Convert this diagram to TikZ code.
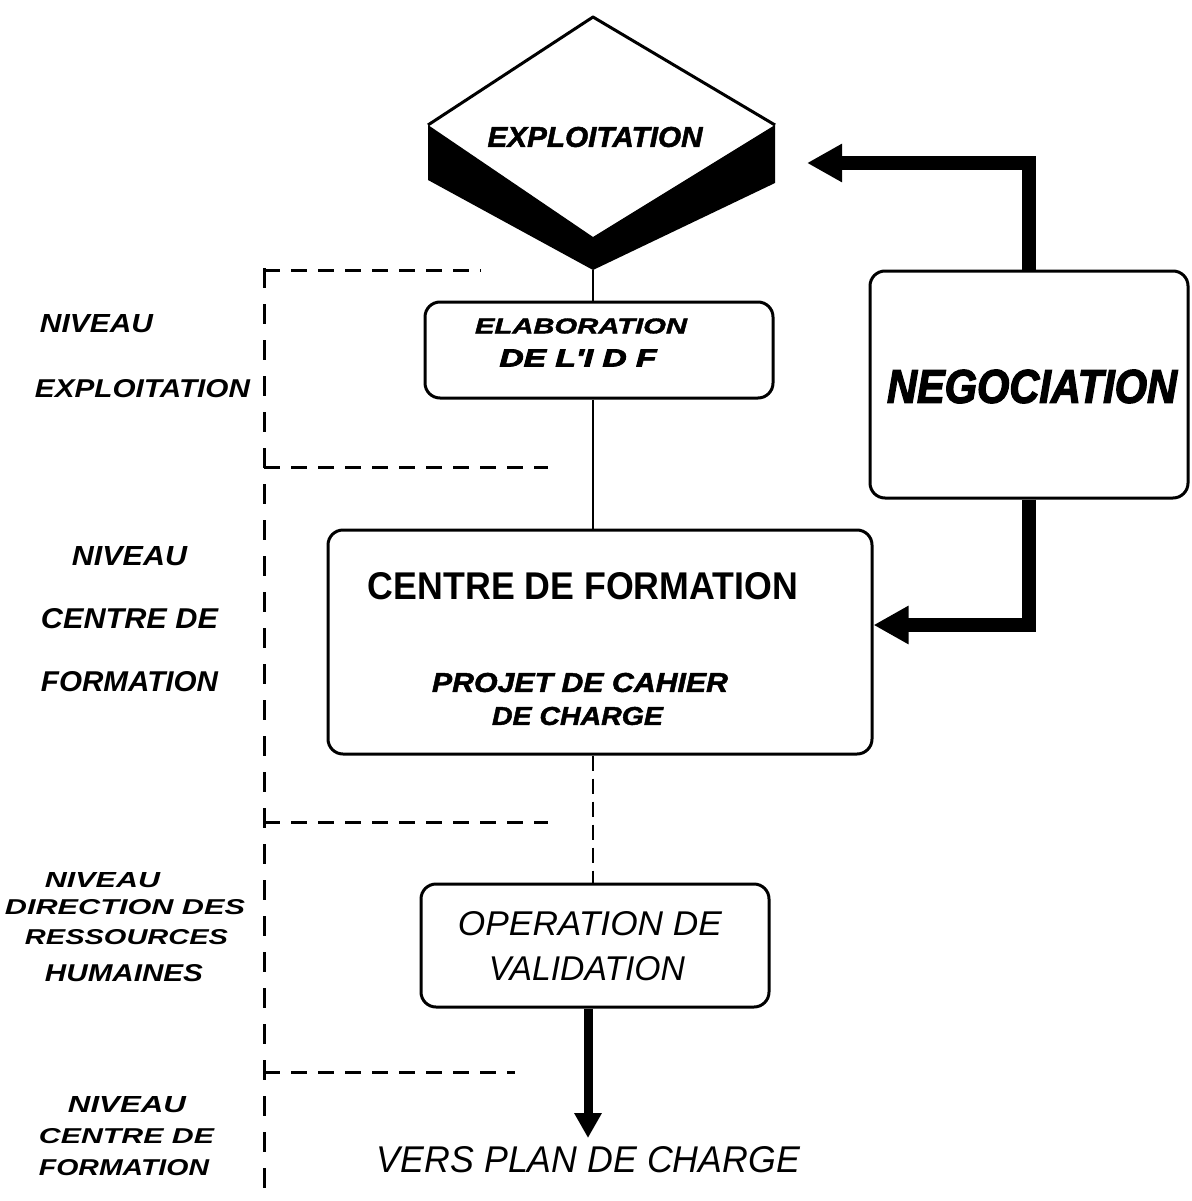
\documentclass[tikz,border=0pt]{standalone}
\usepackage{fontspec}
\usepackage{graphicx}
\setmainfont{Liberation Sans}
\newfontfamily\heavyfont[BoldItalicFeatures={FakeBold=1.6}]{Liberation Sans}
\newfontfamily\blackfont[BoldItalicFeatures={FakeBold=3}]{Liberation Sans}
\usetikzlibrary{arrows.meta}

% text scaled to a given width and cap height (in pt)
\newcommand\fitbox[3]{\resizebox{#1pt}{#2pt}{#3}}
\newcommand\bi{\bfseries\itshape}
\newcommand\hbi{\heavyfont\bfseries\itshape}

\tikzset{
  lbl/.style={inner sep=0pt, outer sep=0pt},
  stage/.style={draw, line width=3pt, rounded corners=15pt, inner sep=0pt},
  link/.style={line width=2.8pt},
  linkdash/.style={line width=2.5pt, dash pattern=on 15pt off 8pt},
  levelh/.style={line width=3pt, dash pattern=on 16pt off 11pt},
  levelv/.style={line width=3pt, dash pattern=on 20pt off 16pt},
  outflow/.style={line width=9pt, -{Triangle[length=25pt,width=26pt]}},
  feedback/.style={line width=14pt, line join=miter, -{Triangle[length=35pt,width=36pt]}}
}

\begin{document}
\begin{tikzpicture}[x=1pt, y=-1pt]
\useasboundingbox (0,0) rectangle (1191,1201);
\fill[white] (0,0) rectangle (1191,1201);

% --- level separators ---
\draw[levelv] (264,268) -- (264,1201);
\draw[levelh] (264,270) -- (481,270);
\draw[levelh] (264,467) -- (548,467);
\draw[levelh] (264,822) -- (548,822);
\draw[levelh] (264,1072) -- (515,1072);

% --- level labels ---
\node[lbl] (n1a) at (96.5,324)   {\fitbox{113}{18}{\bi NIVEAU}};
\node[lbl] (n1b) at (142.5,389)  {\fitbox{215}{18}{\bi EXPLOITATION}};
\node[lbl] (n2a) at (129.5,556.5){\fitbox{115}{19}{\bi NIVEAU}};
\node[lbl] (n2b) at (129.5,618.5){\fitbox{177}{20}{\bi CENTRE DE}};
\node[lbl] (n2c) at (129.5,681.5){\fitbox{177}{20}{\bi FORMATION}};
\node[lbl] (n3a) at (102.5,880.5){\fitbox{115}{15}{\bi NIVEAU}};
\node[lbl] (n3b) at (125,907.5)  {\fitbox{240}{15}{\bi DIRECTION DES}};
\node[lbl] (n3c) at (126.5,937.5){\fitbox{203}{15}{\bi RESSOURCES}};
\node[lbl] (n3d) at (124,973.5)  {\fitbox{158}{17}{\bi HUMAINES}};
\node[lbl] (n4a) at (127,1105)   {\fitbox{118}{16}{\bi NIVEAU}};
\node[lbl] (n4b) at (126.5,1136.5){\fitbox{175}{15}{\bi CENTRE DE}};
\node[lbl] (n4c) at (124,1168)   {\fitbox{170}{16}{\bi FORMATION}};

% --- EXPLOITATION block (raised diamond) ---
\fill[black] (428,125) -- (593,237) -- (775,125) -- (775,183) -- (593,270) -- (428,180) -- cycle;
\draw[line width=3pt, line join=round] (428,125) -- (593,17) -- (775,125);
\coordinate (dbot) at (593,270);
\node[lbl] (expl) at (595,137) {\fitbox{215}{20}{\hbi EXPLOITATION}};

% --- process boxes ---
\node[stage, minimum width=348pt, minimum height=96pt]  (elab)   at (599,350) {};
\node[stage, minimum width=544pt, minimum height=224pt] (centre) at (600,642) {};
\node[stage, minimum width=318pt, minimum height=227pt] (nego)   at (1029,384.5) {};
\node[stage, minimum width=348pt, minimum height=123pt] (oper)   at (595,945.5) {};

\node[lbl] (elab1) at (581,326) {\fitbox{212}{15}{\hbi ELABORATION}};
\node[lbl] (elab2) at (578,358) {\fitbox{157}{17}{\blackfont\bfseries\itshape DE L'I D F}};

\node[lbl] (cf)  at (583,586)   {\fitbox{430}{27}{\bfseries CENTRE DE FORMATION}};
\node[lbl] (cf1) at (580,682.5) {\fitbox{296}{19}{\hbi PROJET DE CAHIER}};
\node[lbl] (cf2) at (577.5,716) {\fitbox{171}{18}{\hbi DE CHARGE}};

\node[lbl] (ng) at (1032,386.5) {\fitbox{290}{33}{\blackfont\bfseries\itshape NEGOCIATION}};

\node[lbl] (op1) at (590,924) {\fitbox{264}{24}{\itshape OPERATION DE}};
\node[lbl] (op2) at (587,969) {\fitbox{196}{24}{\itshape VALIDATION}};

% --- flow ---
\draw[link] (dbot) -- (dbot |- elab.north);
\draw[link] (elab.south -| dbot) -- (centre.north -| dbot);
\draw[linkdash] (centre.south -| dbot) -- (oper.north -| dbot);

\coordinate (plan) at (588,1138);
\draw[outflow] (oper.south -| plan) -- (plan);
\node[lbl] (vers) at (588.5,1160) {\fitbox{423}{26}{\itshape VERS PLAN DE CHARGE}};

% --- negotiation loop ---
\coordinate (toexpl) at (807,163);
\coordinate (tocentre) at (centre.east |- 0,625);
\draw[feedback] (nego.north) |- (toexpl);
\draw[feedback] (nego.south) |- (tocentre);

\end{tikzpicture}
\end{document}
